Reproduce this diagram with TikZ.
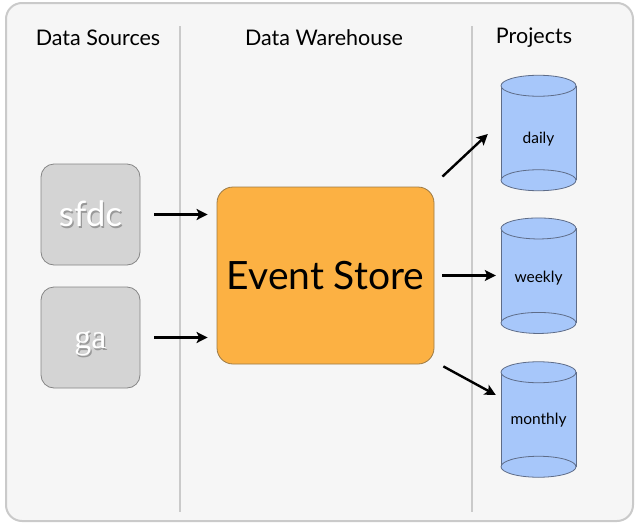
\documentclass[tikz,border=0pt]{standalone}
\usepackage{fontspec}
\setmainfont{Lato}
\newfontfamily\gafont{Liberation Serif}
\usetikzlibrary{arrows.meta}

\definecolor{panelfill}{HTML}{F6F6F6}
\definecolor{panelline}{HTML}{CACACA}
\definecolor{srcfill}{HTML}{D4D4D4}
\definecolor{srcline}{HTML}{858585}
\definecolor{storefill}{HTML}{FCB143}
\definecolor{storeline}{HTML}{9C7A45}
\definecolor{canfill}{HTML}{A7C7FA}
\definecolor{canline}{HTML}{5E6C88}

\newcommand{\embossed}[1]{\makebox[0pt][l]{\kern1.2pt\raisebox{-1.8pt}{\textcolor{black!40}{#1}}}#1}

% #1 name, #2 x, #3 y, #4 label, #5 label shift
\newcommand{\dbcan}[5]{
\fill[canfill] (#2-37.5,#3-47.25) rectangle (#2+37.5,#3+47.25);
\draw[canline,line width=0.8pt] (#2-37.5,#3-47.25) -- (#2-37.5,#3+47.25) (#2+37.5,#3-47.25) -- (#2+37.5,#3+47.25);
\filldraw[fill=canfill,draw=canline,line width=0.8pt] (#2,#3+47.25) ellipse (37.5pt and 10.5pt);
\filldraw[fill=canfill,draw=canline,line width=0.8pt] (#2,#3-47.25) ellipse (37.5pt and 10.5pt);
\node[can,label={[canlabel,yshift=-#5pt]center:#4}] (#1) at (#2,#3) {};
}

\begin{document}
\begin{tikzpicture}[x=1pt,y=-1pt,
  heading/.style={font=\fontsize{21.5}{24}\selectfont},
  srcbox/.style={draw=srcline,fill=srcfill,line width=0.8pt,rounded corners=13pt,minimum width=99pt,minimum height=101pt,text=white},
  storebox/.style={draw=storeline,fill=storefill,line width=0.8pt,rounded corners=16pt,minimum width=217pt,minimum height=177pt,font=\fontsize{39}{44}\selectfont},
  can/.style={minimum width=75pt,minimum height=94.5pt,inner sep=0pt},
  canlabel/.style={font=\fontsize{15.5}{18}\selectfont},
  arr/.style={line width=2.4pt,-{Stealth[length=11pt,width=11pt,inset=2.5pt]}}]
\useasboundingbox (0,0) rectangle (640,525);
\filldraw[fill=panelfill,draw=panelline,line width=2pt,rounded corners=16pt] (6,3) rectangle (633,521);
\draw[panelline,line width=1.2pt] (180,26) -- (180,512);
\draw[panelline,line width=1.2pt] (472,26) -- (472,512);

\node[heading] (sources) at (98,38) {Data Sources};
\node[heading] (warehouse) at (324,38) {Data Warehouse};
\node[heading] (projects) at (534,38) {Projects};

\node[srcbox,font={\fontsize{35}{38}\selectfont}] (sfdc) at (90.5,214.5) {\embossed{sfdc}};
\node[srcbox] (ga) at (90.5,337.5) {\smash{\raisebox{-11pt}{\gafont\fontsize{34}{38}\selectfont\embossed{ga}}}};
\node[storebox] (store) at (325.5,275.5) {Event Store};

\dbcan{daily}{538.5}{133}{daily}{6}
\dbcan{weekly}{538.5}{275.7}{weekly}{2}
\dbcan{monthly}{538.5}{419.5}{monthly}{1}

\draw[arr,shorten <=14pt,shorten >=9pt] (sfdc.east) -- (sfdc.east -| store.west);
\draw[arr,shorten <=14pt,shorten >=9pt] (ga.east) -- (ga.east -| store.west);
\draw[arr] ([shift={(8,-10)}]store.north east) -- ([shift={(-13,1)}]daily.west);
\draw[arr,shorten <=8pt,shorten >=5pt] (store.east) -- (store.east -| weekly.west);
\draw[arr] ([shift={(9,2)}]store.south east) -- ([shift={(-5,-24.5)}]monthly.west);
\end{tikzpicture}
\end{document}
